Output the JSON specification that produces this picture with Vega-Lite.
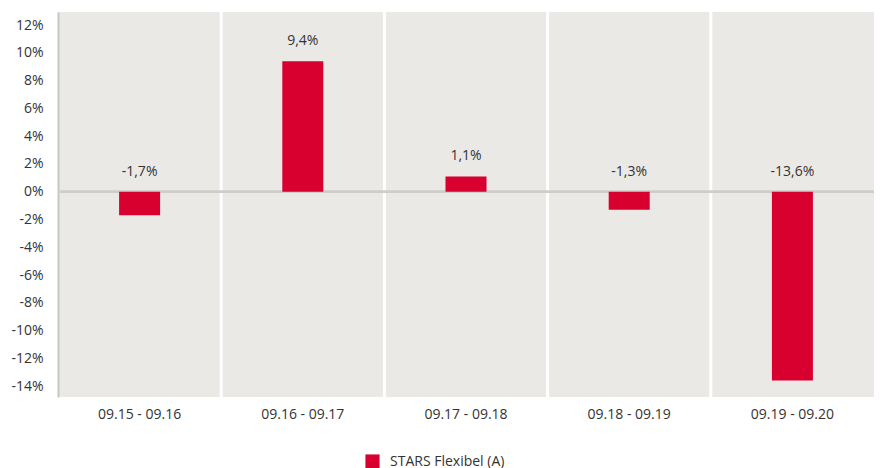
{
  "$schema": "https://vega.github.io/schema/vega-lite/v6.json",
  "width": 816,
  "height": 385,
  "autosize": {"type": "none"},
  "padding": {"left": 58, "top": 12, "right": 8, "bottom": 71},
  "background": "#ffffff",
  "config": {
    "view": {"fill": "#ebe9e6", "stroke": null},
    "font": "Open Sans",
    "axisY": {"labelOverlap": false},
    "locale": {"number": {"decimal": ",", "thousands": ".", "grouping": [3], "currency": ["", " €"], "minus": "-"}}
  },
  "data": {
    "values": [
      {"period": "09.15 - 09.16", "value": -0.017, "series": "STARS Flexibel (A)"},
      {"period": "09.16 - 09.17", "value": 0.094, "series": "STARS Flexibel (A)"},
      {"period": "09.17 - 09.18", "value": 0.011, "series": "STARS Flexibel (A)"},
      {"period": "09.18 - 09.19", "value": -0.013, "series": "STARS Flexibel (A)"},
      {"period": "09.19 - 09.20", "value": -0.136, "series": "STARS Flexibel (A)"}
    ]
  },
  "encoding": {
    "x": {
      "field": "period", "type": "nominal",
      "sort": ["09.15 - 09.16", "09.16 - 09.17", "09.17 - 09.18", "09.18 - 09.19", "09.19 - 09.20"],
      "scale": {"paddingInner": 0, "paddingOuter": 0},
      "axis": {"title": null, "labelAngle": 0, "ticks": false, "domain": false, "grid": false, "labelFontSize": 14, "labelColor": "#333333", "labelPadding": 10}
    },
    "y": {
      "field": "value", "type": "quantitative",
      "scale": {"domain": [-0.1478, 0.1294], "nice": false, "zero": false},
      "axis": {"title": null, "values": [-0.14, -0.12, -0.1, -0.08, -0.06, -0.04, -0.02, 0, 0.02, 0.04, 0.06, 0.08, 0.1, 0.12], "format": ".0%", "labelOverlap": false, "grid": false, "ticks": false, "domain": true, "domainColor": "#c8c6c3", "domainWidth": 2, "labelFontSize": 14, "labelColor": "#333333", "labelPadding": 15}
    }
  },
  "layer": [
    {
      "transform": [{"filter": "datum.period != '09.15 - 09.16'"}],
      "mark": {"type": "rule", "color": "#ffffff", "strokeWidth": 3},
      "encoding": {
        "x": {"field": "period", "type": "nominal", "sort": ["09.15 - 09.16", "09.16 - 09.17", "09.17 - 09.18", "09.18 - 09.19", "09.19 - 09.20"], "bandPosition": 0},
        "y": {"value": 0},
        "y2": {"value": 385}
      }
    },
    {
      "mark": {"type": "rule", "color": "#cfcdca", "strokeWidth": 2},
      "encoding": {"x": {"value": 0}, "x2": {"value": 816}, "y": {"datum": 0}}
    },
    {
      "mark": {"type": "bar", "width": 41},
      "encoding": {
        "color": {
          "field": "series", "type": "nominal",
          "scale": {"range": ["#d7002f"]},
          "legend": {"title": null, "orient": "none", "legendX": 307, "legendY": 442, "symbolType": "square", "symbolSize": 200, "symbolStrokeWidth": 0, "labelFontSize": 14, "labelColor": "#333333", "labelOffset": 10}
        }
      }
    },
    {
      "transform": [{"filter": "datum.value > 0"}],
      "mark": {"type": "text", "dy": -20, "fontSize": 14, "color": "#333333"},
      "encoding": {
        "text": {"field": "value", "type": "quantitative", "format": ".1%"}
      }
    },
    {
      "transform": [{"filter": "datum.value <= 0"}],
      "mark": {"type": "text", "dy": -20, "fontSize": 14, "color": "#333333"},
      "encoding": {
        "y": {"datum": 0},
        "text": {"field": "value", "type": "quantitative", "format": ".1%"}
      }
    }
  ]
}
